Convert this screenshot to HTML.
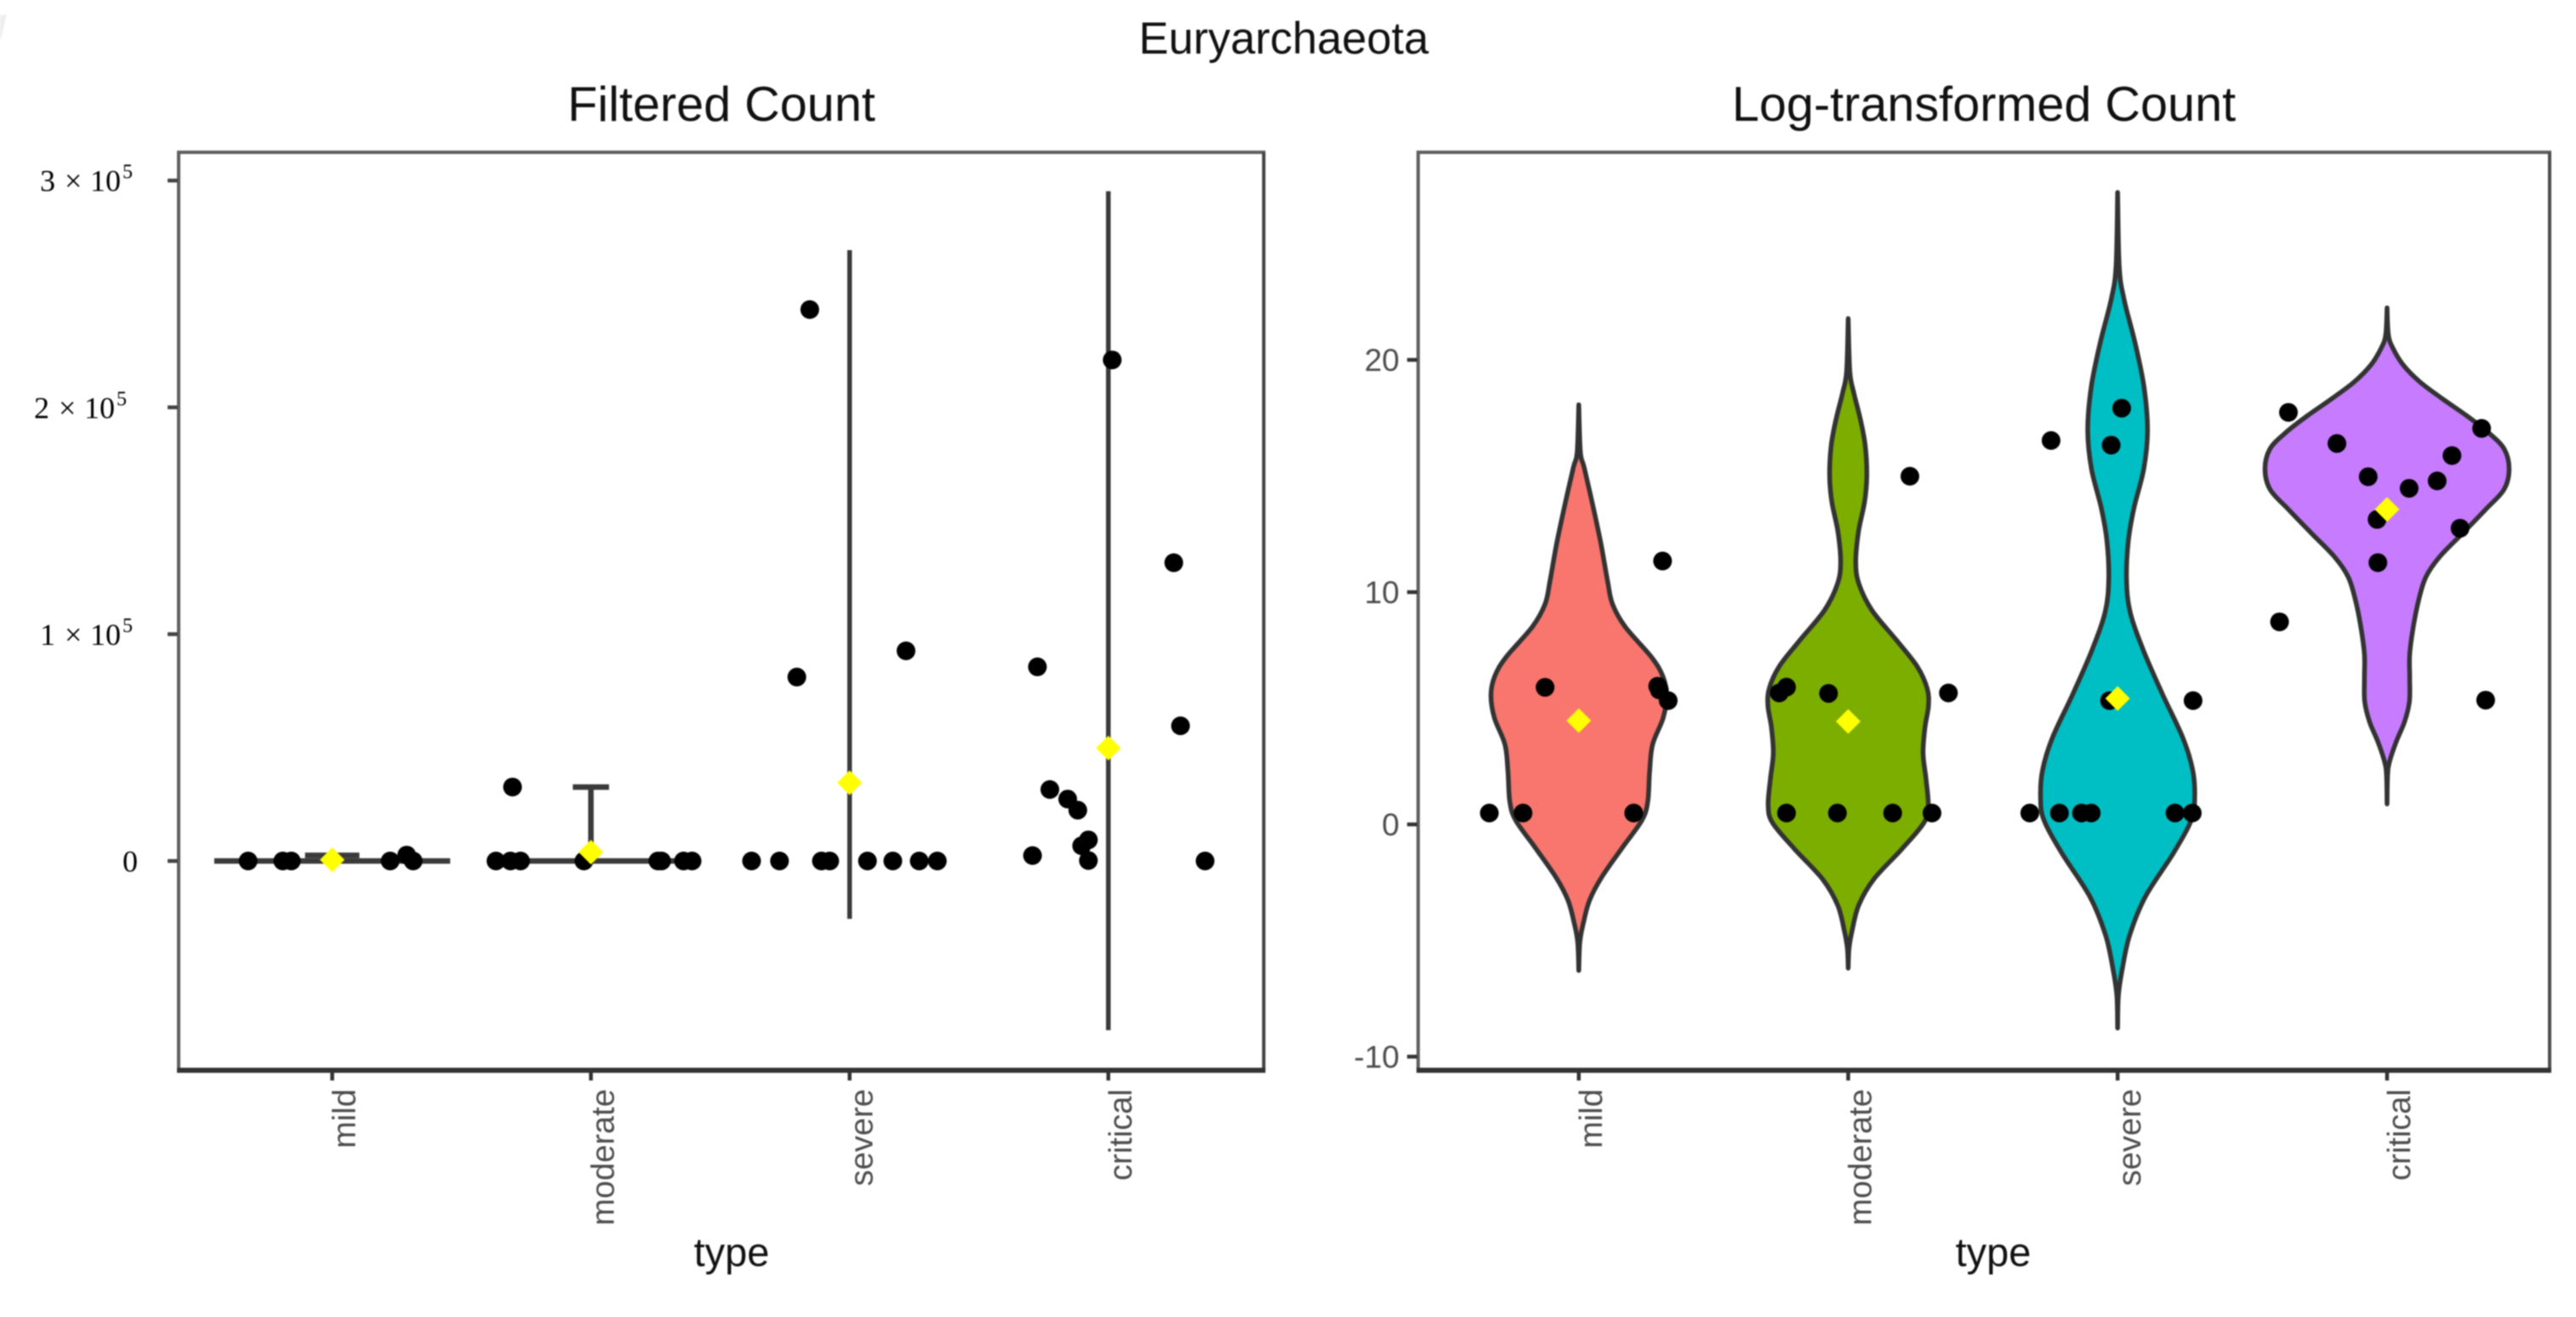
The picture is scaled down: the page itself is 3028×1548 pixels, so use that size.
<!DOCTYPE html>
<html lang="en">
<head>
<meta charset="utf-8">
<title>Euryarchaeota</title>
<style>
html,body{margin:0;padding:0;background:#fff;width:3028px;height:1548px;overflow:hidden}
svg{display:block;filter:blur(0.7px)}
text{font-family:"Liberation Sans",sans-serif}
.serif{font-family:"Liberation Serif",serif}
</style>
</head>
<body>
<svg id="chart" xmlns="http://www.w3.org/2000/svg" width="3028" height="1548" viewBox="0 0 3028 1548">
  <rect x="0" y="0" width="3028" height="1548" fill="#fff"/>
  <polygon points="0,18 8,17 0,50" fill="#eeeeee"/>
  <text x="1509" y="63" font-size="52.4" text-anchor="middle" fill="#111">Euryarchaeota</text>
  <text x="848" y="142" font-size="57.6" text-anchor="middle" fill="#111">Filtered Count</text>
  <text x="2332" y="142" font-size="57.6" text-anchor="middle" fill="#111">Log-transformed Count</text>
  <text x="860" y="1488" font-size="47" text-anchor="middle" fill="#111">type</text>
  <text x="2343" y="1488" font-size="47" text-anchor="middle" fill="#111">type</text>

  <g id="left-panel"></g>
  <g id="right-panel"></g>
</svg>
<script>
// ---- shared data ----
const categories = ['mild', 'moderate', 'severe', 'critical'];
const violinColors = ['#F8766D', '#7CAE00', '#00BFC4', '#C77CFF'];

// ---- left panel data (raw counts) ----
const rawTicks = [0, 100000, 200000, 300000];
const rawTickDigits = ['0', '1', '2', '3'];
const rawMeans = [500, 3900, 34500, 49800];
const rawViolinTop = [2500, 32600, 269300, 295300];
const rawViolinBottom = [0, 0, -25500, -74600];
const rawBaseWidth = [0.456, 0.39, 0, 0];
const rawTopWidth = [0.105, 0.07, 0, 0];
const rawPointCat = [
  0.675, 0.809, 0.842, 1.224, 1.288, 1.313,
  1.633, 1.689, 1.728, 1.973, 2.259, 2.273, 2.358, 2.391, 1.697,
  2.621, 2.729, 2.891, 2.923, 3.069, 3.167, 3.269, 3.339, 2.846, 2.796, 3.218,
  4.015, 4.253, 4.279, 3.726, 3.774, 3.843, 3.882, 3.923, 3.897, 3.923, 3.707, 4.374
];
const rawPointVal = [
  0, 0, 0, 0, 2600, 0,
  0, 0, 0, 0, 0, 0, 0, 0, 32600,
  0, 0, 0, 0, 0, 0, 0, 0, 243100, 81100, 92650,
  220900, 131500, 59600, 85600, 31500, 27300, 22400, 9300, 6700, 200, 2400, 0
];

// ---- right panel data (log counts) ----
const logTicks = [-10, 0, 10, 20];
const logTickLabels = ['-10', '0', '10', '20'];
const logMeans = [4.47, 4.43, 5.42, 13.56];
const logPointCat = [
  0.668, 0.793, 1.204, 0.875, 1.293, 1.299, 1.332, 1.311,
  1.744, 1.771, 1.927, 2.372, 2.229, 1.771, 1.960, 2.165, 2.311,
  2.753, 2.976, 3.015, 2.970, 3.280, 2.674, 2.784, 2.866, 2.902, 3.213, 3.277,
  3.634, 4.351, 3.814, 4.241, 3.930, 4.186, 4.082, 3.963, 4.271, 3.966, 3.601, 4.366
];
const logPointVal = [
  0.49, 0.49, 0.49, 5.90, 5.95, 5.79, 5.33, 11.34,
  5.66, 5.91, 5.64, 5.66, 14.99, 0.49, 0.49, 0.49, 0.49,
  16.53, 16.33, 17.92, 5.33, 5.33, 0.49, 0.49, 0.49, 0.49, 0.49, 0.49,
  17.74, 17.05, 16.40, 15.88, 14.97, 14.79, 14.47, 13.13, 12.75, 11.27, 8.72, 5.35
];

// violin outlines: log value and density (half width in category units)
const mildValues = [18.07,16.03,15.37,13.74,12.10,10.47,9.49,8.51,7.20,6.38,5.56,4.58,3.44,2.29,0.98,0.17,-0.98,-2.29,-3.27,-4.25,-5.07,-6.29];
const mildDensity = [0,.006,.02,.052,.082,.107,.125,.172,.27,.312,.326,.313,.274,.263,.256,.234,.163,.084,.040,.017,.004,0];
const moderateValues = [21.78,19.5,18.57,17.45,16.33,15.02,13.9,12.59,11.28,10.35,9.22,7.92,6.8,5.86,5.11,4.18,3.06,1.94,0.82,0.07,-1.05,-2.36,-3.48,-4.6,-5.35,-6.19];
const moderateDensity = [0,.006,.021,.045,.063,.069,.061,.038,.028,.04,.088,.18,.256,.293,.298,.285,.278,.289,.297,.281,.2,.095,.039,.014,.003,0];
const severeValues = [27.21,24.02,22.6,20.72,18.83,16.95,15.3,13.64,12.23,10.58,9.16,7.51,5.62,3.73,2.32,1.14,0.2,-1.22,-3.11,-4.76,-6.18,-7.36,-8.77];
const severeDensity = [0,.006,.024,.065,.098,.111,.097,.061,.04,.033,.046,.095,.166,.242,.279,.286,.274,.208,.103,.045,.018,.003,0];
const criticalValues = [22.24,21.08,20.5,19.78,19.05,18.33,17.6,16.88,16.16,15.29,14.42,13.55,12.54,11.52,10.65,9.64,8.48,7.32,6.31,5.29,4.42,3.56,2.69,2.11,0.88];
const criticalDensity = [0,.005,.022,.06,.122,.205,.295,.375,.435,.453,.434,.365,.281,.195,.144,.117,.097,.084,.084,.083,.065,.034,.009,.002,0];

const violinValues = [mildValues, moderateValues, severeValues, criticalValues];
const violinDensities = [mildDensity, moderateDensity, severeDensity, criticalDensity];

// ---- axis functions ----
function xLeft(c) { return 390.5 + (c - 1) * 304.1; }
function yLeft(v) { return 1012 - v * 266.6 / 100000; }
function xRight(c) { return 1855.8 + (c - 1) * 316.7; }
function yRight(v) { return 969 - v * 27.3; }

const NS = 'http://www.w3.org/2000/svg';
function make(parent, tag, attrs) {
  const el = document.createElementNS(NS, tag);
  for (const k in attrs) el.setAttribute(k, attrs[k]);
  parent.appendChild(el);
  return el;
}

function drawFrame(g, x0, x1, yTop, yBot, sideColor) {
  const top = make(g, 'line', { x1: x0 - 2, x2: x1 + 2, y1: yTop, y2: yTop, stroke: '#5f5f5f', 'stroke-width': 4 });
  
  
  const left = make(g, 'line', { x1: x0, x2: x0, y1: yTop, y2: yBot, stroke: '#5f5f5f', 'stroke-width': 4 });
  
  
  const right = make(g, 'line', { x1: x1, x2: x1, y1: yTop, y2: yBot, stroke: sideColor, 'stroke-width': 4 });
  
  
  const bottom = make(g, 'line', { x1: x0 - 2, x2: x1 + 2, y1: yBot, y2: yBot, stroke: '#333', 'stroke-width': 6 });
  
  
}

function drawXAxis(g, xFn, yBot, offset) {
  categories.forEach(function (name, i) {
    const x = xFn(i + 1);
    const tick = make(g, 'line', { x1: x, x2: x, y1: yBot, y2: yBot + 12, stroke: '#333', 'stroke-width': 4.5 });
    
    
    const lx = x + offset;
    const label = make(g, 'text', { x: lx, y: 1280, 'font-size': 38, fill: '#4d4d4d', 'text-anchor': 'end', transform: 'rotate(-90 ' + lx + ' 1280)' });
    
    
    label.textContent = name;
  });
}

function drawPoints(g, xFn, yFn, cats, vals) {
  cats.forEach(function (c, i) {
    const dot = make(g, 'circle', { cx: xFn(c), cy: yFn(vals[i]), r: 11, fill: '#000' });
    
    
  });
}

function drawMeans(g, xFn, yFn, means) {
  means.forEach(function (m, i) {
    const x = xFn(i + 1), y = yFn(m), h = 14.5;
    const d = make(g, 'polygon', { points: (x - h) + ',' + y + ' ' + x + ',' + (y - h) + ' ' + (x + h) + ',' + y + ' ' + x + ',' + (y + h), fill: '#ffff00' });
    
    
  });
}

// smooth curve through knots (Catmull-Rom to Bezier)
function smoothThrough(pts, startWithMove) {
  let d = startWithMove ? 'M' + pts[0][0].toFixed(2) + ' ' + pts[0][1].toFixed(2) : '';
  for (let i = 0; i < pts.length - 1; i++) {
    const p0 = pts[Math.max(i - 1, 0)], p1 = pts[i], p2 = pts[i + 1], p3 = pts[Math.min(i + 2, pts.length - 1)];
    const c1x = p1[0] + (p2[0] - p0[0]) / 6, c1y = p1[1] + (p2[1] - p0[1]) / 6;
    const c2x = p2[0] - (p3[0] - p1[0]) / 6, c2y = p2[1] - (p3[1] - p1[1]) / 6;
    d += 'C' + c1x.toFixed(2) + ' ' + c1y.toFixed(2) + ' ' + c2x.toFixed(2) + ' ' + c2y.toFixed(2) + ' ' + p2[0].toFixed(2) + ' ' + p2[1].toFixed(2);
  }
  return d;
}

// ---- left panel ----
(function () {
  const g = document.getElementById('left-panel');
  drawFrame(g, 210, 1485.5, 179, 1258, '#444');

  rawTicks.forEach(function (t, i) {
    const y = yLeft(t);
    const tick = make(g, 'line', { x1: 197, x2: 209, y1: y, y2: y, stroke: '#444', 'stroke-width': 4.5 });
    
    
    const base = y + 12.5;
    const digit = rawTickDigits[i];
    const label = make(g, 'text', { class: 'serif', y: base, 'font-size': 36, fill: '#000' });
    
    
    if (t === 0) {
      label.setAttribute('x', 144);
      label.textContent = digit;
    } else {
      const shift = t === 200000 ? -7 : 0;
      const x0 = 47 + shift;
      const a = make(label, 'tspan', { x: x0 }); a.textContent = digit;
      const b = make(label, 'tspan', { x: x0 + 29 }); b.textContent = '\u00d7';
      const c = make(label, 'tspan', { x: x0 + 59 }); c.textContent = '10';
      const e = make(label, 'tspan', { x: x0 + 97, 'font-size': 24, dy: -15 }); e.textContent = '5';
    }
  });

  drawXAxis(g, xLeft, 1258, 27);

  categories.forEach(function (name, i) {
    const x = xLeft(i + 1);
    const parts = [];
    parts.push('M' + x + ' ' + yLeft(rawViolinTop[i]) + 'L' + x + ' ' + yLeft(rawViolinBottom[i]));
    if (rawTopWidth[i] > 0) {
      const w = rawTopWidth[i] * 304.1;
      parts.push('M' + (x - w) + ' ' + yLeft(rawViolinTop[i]) + 'L' + (x + w) + ' ' + yLeft(rawViolinTop[i]));
    }
    if (rawBaseWidth[i] > 0) {
      const w = rawBaseWidth[i] * 304.1;
      parts.push('M' + (x - w) + ' ' + yLeft(0) + 'L' + (x + w) + ' ' + yLeft(0));
    }
    const sw = i >= 2 ? 5.5 : 6.5;
    const p = make(g, 'path', { d: parts.join(''), fill: 'none', stroke: '#3a3a3a', 'stroke-width': sw });
    
    
  });

  drawPoints(g, xLeft, yLeft, rawPointCat, rawPointVal);
  drawMeans(g, xLeft, yLeft, rawMeans);
})();

// ---- right panel ----
(function () {
  const g = document.getElementById('right-panel');
  drawFrame(g, 1667, 2997, 179, 1258, '#4c4c4c');

  logTicks.forEach(function (t, i) {
    const y = yRight(t);
    const tick = make(g, 'line', { x1: 1654, x2: 1666, y1: y, y2: y, stroke: '#333', 'stroke-width': 4.5 });
    
    
    const label = make(g, 'text', { x: 1645, y: y + 13, 'font-size': 37, fill: '#4d4d4d', 'text-anchor': 'end' });
    
    
    label.textContent = logTickLabels[i];
  });

  drawXAxis(g, xRight, 1258, 27);

  categories.forEach(function (name, i) {
    const cx = i + 1;
    const vals = violinValues[i], dens = violinDensities[i];
    const rightSide = vals.map(function (v, k) { return [xRight(cx + dens[k]), yRight(v)]; });
    const leftSide = vals.map(function (v, k) { return [xRight(cx - dens[k]), yRight(v)]; }).reverse();
    const d = smoothThrough(rightSide, true) + smoothThrough(leftSide, false) + 'Z';
    const p = make(g, 'path', { d: d, fill: violinColors[i], stroke: '#333', 'stroke-width': 5.5, 'stroke-linejoin': 'round' });
    
    
  });

  drawPoints(g, xRight, yRight, logPointCat, logPointVal);
  drawMeans(g, xRight, yRight, logMeans);
})();
</script>
</body>
</html>
